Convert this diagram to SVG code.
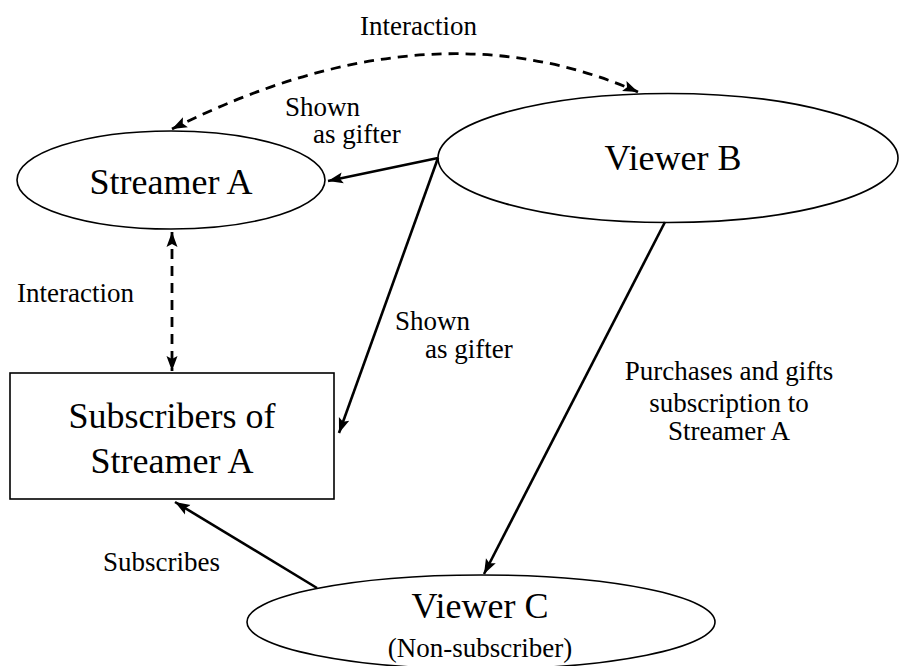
<svg xmlns="http://www.w3.org/2000/svg" width="899" height="666" viewBox="0 0 899 666">
<style>
.node{fill:#fff;stroke:#000;stroke-width:1.6}
.nt{font-size:36px;fill:#000;text-anchor:middle}
.lt{font-size:27px;fill:#000}
.c{fill:none;stroke:#000;stroke-width:2.6}
.d{stroke-dasharray:10 7;stroke-width:2.8}
</style>
<defs>
<marker id="ah" markerUnits="userSpaceOnUse" markerWidth="16" markerHeight="14" viewBox="0 0 16 14" refX="15" refY="7" orient="auto-start-reverse">
<path d="M0,1.5 L15,7 L0,12.5 L3,7 Z" fill="#000"/>
</marker>
</defs>
<rect width="899" height="666" fill="#fff"/>
<g font-family="Liberation Serif, Times New Roman, DejaVu Serif, serif">
<g id="streamerA">
<ellipse class="node" cx="171" cy="180" rx="154" ry="49"/>
<text class="nt" x="171" y="194">Streamer A</text>
</g>
<g id="viewerB">
<ellipse class="node" cx="668" cy="158" rx="230" ry="64.5"/>
<text class="nt" x="673" y="170">Viewer B</text>
</g>
<g id="subscribers">
<rect class="node" x="10" y="373" width="324" height="126"/>
<text class="nt" x="172" y="428">Subscribers of</text>
<text class="nt" x="172" y="473">Streamer A</text>
</g>
<g id="viewerC">
<ellipse class="node" cx="481" cy="622" rx="234" ry="47"/>
<text class="nt" x="480" y="618">Viewer C</text>
<text class="nt" x="480" y="657" style="font-size:27px">(Non-subscriber)</text>
</g>
<g id="connectors">
<path class="c d" d="M172,129 Q429,0 638,92" marker-start="url(#ah)" marker-end="url(#ah)"/>
<path class="c d" d="M172,232 L172,371" marker-start="url(#ah)" marker-end="url(#ah)"/>
<path class="c" d="M438,158 L328,181" marker-end="url(#ah)"/>
<path class="c" d="M438,158 L339,433" marker-end="url(#ah)"/>
<path class="c" d="M665,222 L484,574" marker-end="url(#ah)"/>
<path class="c" d="M317,588 L175,502" marker-end="url(#ah)"/>
</g>
<g id="labels">
<text class="lt" x="360" y="35">Interaction</text>
<text class="lt" x="285" y="116">Shown</text>
<text class="lt" x="313" y="143">as gifter</text>
<text class="lt" x="17" y="302">Interaction</text>
<text class="lt" x="395" y="330">Shown</text>
<text class="lt" x="425" y="358">as gifter</text>
<text class="lt" x="729" y="380" text-anchor="middle">Purchases and gifts</text>
<text class="lt" x="729" y="412" text-anchor="middle">subscription to</text>
<text class="lt" x="729" y="440" text-anchor="middle">Streamer A</text>
<text class="lt" x="103" y="571">Subscribes</text>
</g>
</g>
</svg>
